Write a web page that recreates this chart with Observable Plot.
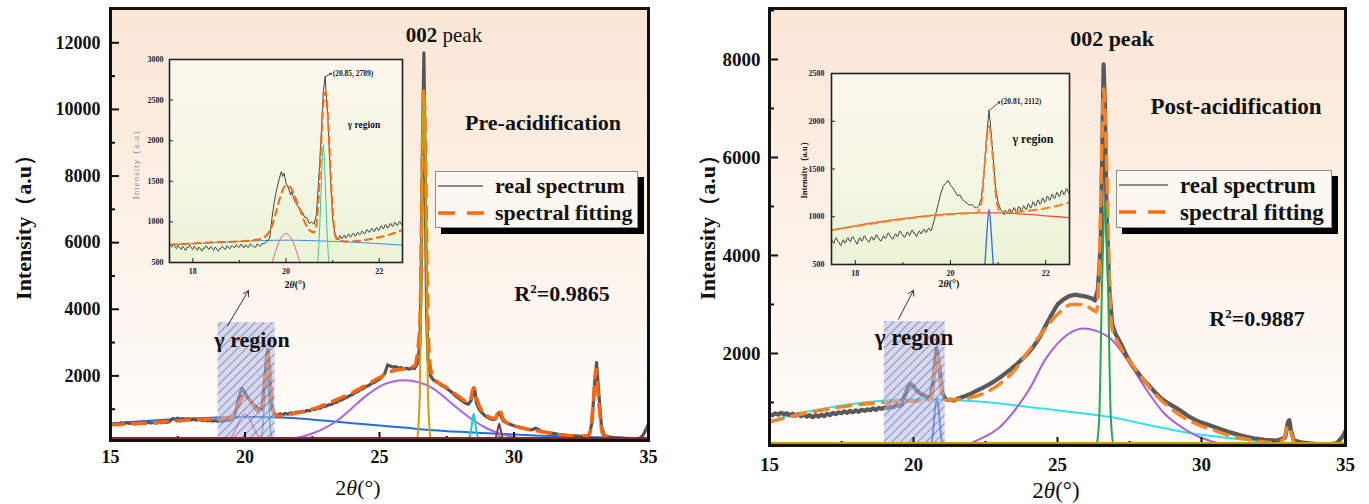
<!DOCTYPE html>
<html><head><meta charset="utf-8">
<script src="https://cdn.jsdelivr.net/npm/d3@7"></script>
<script src="https://cdn.jsdelivr.net/npm/@observablehq/plot@0.6"></script>
<style>
body{margin:0;background:#fff;}
#wrap{position:relative;width:1369px;height:504px;overflow:hidden;font-family:"Liberation Serif","Times New Roman",serif;color:#111;}
.abs{position:absolute;}
.t{position:absolute;white-space:nowrap;line-height:1;font-family:"Liberation Serif","Times New Roman",serif;}
svg{overflow:visible;}
</style></head><body><div id="wrap"></div>
<script>
// ---------------- DATA: Pre-acidification (main) ----------------
const preSpectrum = [[15.0,560],[15.1,540],[15.2,575],[15.3,550],[15.4,590],[15.5,560],[15.6,600],[15.7,570],[15.8,585],[15.9,555],[16.0,590],[16.1,570],[16.2,600],[16.3,575],[16.4,610],[16.5,585],[16.6,600],[16.7,580],[16.8,615],[16.9,590],[17.0,620],[17.1,600],[17.2,630],[17.3,720],[17.4,700],[17.5,730],[17.6,700],[17.7,720],[17.8,690],[17.9,715],[18.0,680],[18.1,700],[18.2,670],[18.3,690],[18.4,660],[18.5,680],[18.6,650],[18.7,670],[18.8,640],[18.9,660],[19.0,630],[19.1,650],[19.2,640],[19.3,670],[19.4,660],[19.5,700],[19.6,780],[19.7,1100],[19.8,1450],[19.9,1620],[20.0,1500],[20.1,1350],[20.2,1250],[20.3,1150],[20.4,1080],[20.5,1020],[20.6,1000],[20.65,1150],[20.7,1600],[20.8,2550],[20.85,2800],[20.9,2300],[20.95,1500],[21.0,1000],[21.1,850],[21.2,820],[21.3,860],[21.4,830],[21.5,870],[21.6,850],[21.7,890],[21.8,870],[21.9,910],[22.0,900],[22.1,930],[22.2,920],[22.3,960],[22.4,950],[22.5,1000],[22.6,990],[22.7,1040],[22.8,1030],[22.9,1080],[23.0,1090],[23.1,1130],[23.2,1140],[23.3,1190],[23.4,1200],[23.5,1260],[23.6,1280],[23.7,1330],[23.8,1360],[23.9,1410],[24.0,1440],[24.1,1500],[24.2,1530],[24.3,1590],[24.4,1620],[24.5,1680],[24.6,1710],[24.7,1770],[24.8,1800],[24.9,1860],[25.0,1900],[25.1,1980],[25.2,2080],[25.3,2330],[25.4,2300],[25.5,2260],[25.6,2280],[25.7,2230],[25.8,2250],[25.9,2210],[26.0,2230],[26.1,2200],[26.2,2240],[26.3,2220],[26.4,2350],[26.5,2900],[26.55,5000],[26.6,9000],[26.65,11700],[26.7,8000],[26.75,4000],[26.8,2500],[26.9,2000],[27.0,1880],[27.1,1830],[27.2,1780],[27.3,1720],[27.4,1680],[27.5,1620],[27.6,1560],[27.7,1500],[27.8,1420],[27.9,1350],[28.0,1290],[28.1,1230],[28.2,1180],[28.3,1150],[28.4,1250],[28.5,1600],[28.55,1550],[28.6,1200],[28.7,1000],[28.8,900],[28.9,820],[29.0,760],[29.1,720],[29.2,690],[29.3,700],[29.4,850],[29.45,900],[29.5,820],[29.6,650],[29.7,600],[29.8,560],[29.9,530],[30.0,500],[30.1,480],[30.2,460],[30.3,440],[30.4,420],[30.5,400],[30.6,380],[30.7,390],[30.8,430],[30.9,400],[31.0,340],[31.1,320],[31.2,300],[31.3,290],[31.4,280],[31.5,265],[31.6,250],[31.7,240],[31.8,230],[31.9,220],[32.0,210],[32.2,200],[32.4,190],[32.6,190],[32.8,220],[32.9,600],[33.0,1800],[33.07,2400],[33.15,1500],[33.25,500],[33.35,220],[33.5,170],[33.7,150],[34.0,130],[34.2,120],[34.4,110],[34.6,110],[34.7,140],[34.8,220],[34.9,380],[35.0,560]];
const preFit = [[15,530],[16,570],[17,620],[18,680],[19,720],[19.5,760],[19.7,1000],[19.9,1350],[20.0,1400],[20.2,1250],[20.4,1000],[20.6,880],[20.7,1200],[20.8,2300],[20.85,2650],[20.9,2400],[21.0,1300],[21.1,850],[21.3,800],[21.5,820],[22,900],[22.5,1000],[23,1150],[23.5,1320],[24,1500],[24.5,1720],[25,1950],[25.5,2150],[26,2230],[26.3,2300],[26.5,3500],[26.6,9000],[26.65,10600],[26.7,9000],[26.8,3500],[26.9,2200],[27,1950],[27.5,1650],[28,1350],[28.3,1200],[28.4,1350],[28.5,1650],[28.6,1350],[28.8,950],[29,800],[29.3,720],[29.45,1000],[29.6,700],[29.8,560],[30,500],[30.5,400],[31,330],[31.5,260],[32,210],[32.5,180],[32.8,230],[32.95,1200],[33.05,2200],[33.15,1200],[33.3,250],[33.6,130],[34,110],[34.5,100],[35,100]];
const preBaseline = [[15,570],[16,630],[17,680],[18,720],[19,750],[20,765],[20.5,765],[21,755],[22,720],[23,650],[24,580],[25,510],[26,440],[27,370],[28,320],[29,280],[30,240],[31,205],[32,180],[33,160],[34,145],[35,130]];
const preRed = [[19.2,15],[19.3,38],[19.4,87],[19.5,174],[19.6,309],[19.7,481],[19.8,660],[19.9,798],[20.0,850],[20.1,798],[20.2,660],[20.3,481],[20.4,309],[20.5,174],[20.6,87],[20.7,38],[20.8,15]];
const preTeal = [[20.55,19],[20.6,100],[20.65,366],[20.7,950],[20.75,1750],[20.8,2150],[20.85,1750],[20.9,950],[20.95,366],[21.0,100],[21.05,19]];
const prePurple = [[21.2,60],[22,150],[22.5,270],[23,450],[23.5,700],[24,1050],[24.5,1400],[25,1680],[25.5,1830],[25.9,1870],[26.5,1800],[27,1620],[27.5,1300],[28,960],[28.5,660],[29,420],[29.5,260],[30,160],[30.5,100],[31,70]];
const preGold = [[26.4,60],[26.5,1500],[26.55,5000],[26.6,9000],[26.65,10600],[26.7,9000],[26.75,5000],[26.8,1500],[26.9,60]];
const preCyan = [[28.3,60],[28.4,350],[28.5,870],[28.6,350],[28.7,60],[29.35,60],[29.45,200],[29.55,60]];
const preBrown = [[29.3,60],[29.4,400],[29.45,560],[29.5,400],[29.6,60]];
const preRegion = [{x1:19.0, x2:21.12, y1:60, y2:3600}];
const preArrow = [{x1:19.35, y1:3500, x2:20.13, y2:4560}];

// ---------------- DATA: Post-acidification (main) ----------------
const postSpectrum = [[15.0,760],[15.1,740],[15.2,780],[15.3,750],[15.4,790],[15.5,760],[15.6,780],[15.7,740],[15.8,770],[15.9,730],[16.0,760],[16.1,720],[16.2,750],[16.3,710],[16.4,740],[16.5,700],[16.6,740],[16.7,710],[16.8,750],[16.9,720],[17.0,770],[17.1,740],[17.2,790],[17.3,760],[17.4,800],[17.5,780],[17.6,820],[17.7,790],[17.8,830],[17.9,800],[18.0,840],[18.1,810],[18.2,850],[18.3,830],[18.4,860],[18.5,840],[18.6,880],[18.7,850],[18.8,890],[18.9,870],[19.0,900],[19.1,880],[19.2,920],[19.3,900],[19.4,940],[19.5,930],[19.6,960],[19.7,1150],[19.8,1300],[19.9,1380],[20.0,1330],[20.1,1250],[20.2,1200],[20.3,1160],[20.4,1130],[20.5,1110],[20.6,1120],[20.7,1500],[20.8,2100],[20.9,1700],[21.0,1200],[21.1,1080],[21.2,1050],[21.3,1060],[21.4,1040],[21.5,1070],[21.6,1090],[21.7,1110],[21.8,1130],[21.9,1160],[22.0,1180],[22.2,1240],[22.4,1300],[22.6,1360],[22.8,1430],[23.0,1510],[23.2,1600],[23.4,1690],[23.6,1790],[23.8,1900],[24.0,2020],[24.2,2170],[24.4,2350],[24.6,2580],[24.8,2800],[25.0,3000],[25.2,3100],[25.4,3170],[25.6,3200],[25.8,3180],[26.0,3160],[26.2,3120],[26.3,3080],[26.4,3300],[26.5,4200],[26.55,6000],[26.6,7900],[26.65,7000],[26.7,5000],[26.8,3300],[26.9,2600],[27.0,2420],[27.2,2200],[27.4,1950],[27.6,1750],[27.8,1600],[28.0,1450],[28.2,1330],[28.4,1200],[28.6,1080],[28.8,1000],[29.0,930],[29.2,860],[29.4,780],[29.6,700],[29.8,640],[30.0,590],[30.3,530],[30.6,470],[31.0,390],[31.4,320],[31.8,270],[32.2,240],[32.6,220],[32.9,280],[33.0,600],[33.05,640],[33.1,450],[33.2,230],[33.5,180],[34.0,150],[34.4,140],[34.7,170],[34.9,300],[35.0,420]];
const postFit = [[15,600],[15.5,680],[16,750],[16.5,810],[17,860],[17.5,910],[18,950],[18.5,980],[19,1000],[19.5,1020],[20,1030],[20.5,1040],[20.65,1150],[20.75,1700],[20.81,1950],[20.9,1650],[21.0,1150],[21.1,1050],[21.5,1060],[22,1100],[22.5,1200],[23,1380],[23.5,1650],[24,2050],[24.5,2450],[25,2800],[25.5,3000],[25.9,3000],[26.2,2900],[26.35,2850],[26.45,3800],[26.55,6500],[26.6,7400],[26.7,6000],[26.8,3500],[26.9,2500],[27.0,2350],[27.5,1850],[28,1450],[28.5,1100],[29,850],[29.5,650],[30,520],[30.5,420],[31,320],[31.5,260],[32,210],[32.5,180],[32.85,250],[33.0,520],[33.1,400],[33.25,150],[33.5,110],[34,90],[35,80]];
const postCyan = [[15,620],[16,780],[17,890],[18,980],[19,1040],[20,1065],[21,1060],[22,1030],[23,980],[24,910],[25,840],[26,770],[27,690],[28,560],[29,440],[30,340],[31,270],[32,210],[33,170],[34,130],[35,100]];
const postBlue = [[20.6,90],[20.65,250],[20.7,550],[20.75,880],[20.81,1080],[20.87,880],[20.92,550],[20.97,250],[21.02,90]];
const postPurple = [[21.2,60],[21.7,110],[22.3,250],[23,500],[23.5,830],[24,1250],[24.6,1900],[25,2200],[25.5,2440],[25.9,2510],[26.4,2450],[26.9,2270],[27.5,1800],[28.1,1250],[28.7,780],[29.3,500],[29.9,300],[30.4,200],[31,110],[31.5,60]];
const postGreen = [[26.35,80],[26.45,700],[26.55,3500],[26.65,5100],[26.75,3500],[26.85,700],[26.95,80]];
const postRegion = [{x1:18.99, x2:21.1, y1:122, y2:2650}];
const postArrow = [{x1:19.48, y1:2700, x2:20.0, y2:3290}];

// ---------------- DATA: insets ----------------
const preInsetSpectrum = [[17.50,720],[17.53,700],[17.55,690],[17.58,730],[17.60,710],[17.63,680],[17.65,670],[17.68,710],[17.70,700],[17.73,675],[17.75,660],[17.78,700],[17.80,690],[17.83,655],[17.85,650],[17.88,690],[17.90,680],[17.93,715],[17.95,700],[17.98,670],[18.00,660],[18.03,700],[18.05,690],[18.08,660],[18.10,650],[18.13,690],[18.15,680],[18.18,650],[18.20,640],[18.23,680],[18.25,670],[18.28,705],[18.30,700],[18.33,670],[18.35,660],[18.38,695],[18.40,690],[18.43,660],[18.45,650],[18.48,690],[18.50,680],[18.53,650],[18.55,640],[18.58,675],[18.60,670],[18.63,700],[18.65,690],[18.68,665],[18.70,660],[18.73,705],[18.75,700],[18.78,675],[18.80,670],[18.83,705],[18.85,700],[18.88,690],[18.90,680],[18.93,720],[18.95,710],[18.98,685],[19.00,690],[19.03,725],[19.05,720],[19.08,690],[19.10,680],[19.13,715],[19.15,710],[19.18,685],[19.20,690],[19.23,730],[19.25,720],[19.28,700],[19.30,700],[19.33,685],[19.35,690],[19.38,730],[19.40,720],[19.43,705],[19.45,700],[19.48,735],[19.50,730],[19.55,740],[19.60,760],[19.65,800],[19.70,1050],[19.75,1250],[19.80,1400],[19.85,1520],[19.90,1620],[19.93,1560],[19.96,1600],[20.00,1480],[20.05,1420],[20.10,1330],[20.13,1380],[20.16,1300],[20.20,1240],[20.25,1200],[20.30,1150],[20.35,1120],[20.40,1060],[20.45,1050],[20.50,980],[20.55,1000],[20.60,970],[20.65,1080],[20.70,1500],[20.75,2000],[20.80,2600],[20.84,2789],[20.90,2250],[20.95,1600],[21.00,1050],[21.05,850],[21.10,800],[21.13,780],[21.15,830],[21.18,815],[21.20,790],[21.23,820],[21.25,840],[21.28,800],[21.30,810],[21.33,845],[21.35,850],[21.38,815],[21.40,820],[21.43,855],[21.45,860],[21.48,825],[21.50,830],[21.53,865],[21.55,870],[21.58,840],[21.60,850],[21.63,885],[21.65,880],[21.68,850],[21.70,860],[21.73,905],[21.75,900],[21.78,870],[21.80,880],[21.83,915],[21.85,920],[21.88,885],[21.90,880],[21.93,925],[21.95,930],[21.98,895],[22.00,900],[22.03,945],[22.05,950],[22.08,915],[22.10,920],[22.13,965],[22.15,960],[22.18,925],[22.20,930],[22.23,975],[22.25,980],[22.28,945],[22.30,950],[22.33,995],[22.35,990],[22.38,955],[22.40,960],[22.43,1005],[22.45,1000],[22.48,965],[22.50,970]];
const preInsetFit = [[17.5,720],[18,735],[18.5,750],[19,760],[19.3,775],[19.5,800],[19.6,850],[19.7,950],[19.8,1150],[19.9,1350],[20.0,1450],[20.1,1420],[20.2,1300],[20.3,1150],[20.4,1000],[20.5,900],[20.6,870],[20.65,950],[20.7,1300],[20.75,1900],[20.8,2450],[20.85,2600],[20.9,2300],[20.95,1700],[21.0,1150],[21.05,850],[21.1,780],[21.3,760],[21.6,770],[21.9,800],[22.2,840],[22.5,900]];
const preInsetBlue = [[17.5,718],[18,730],[18.5,745],[19,760],[19.5,770],[20,775],[20.5,770],[21,760],[21.5,748],[22,732],[22.5,714]];
const preInsetRed = [[19.6,380],[19.7,500],[19.8,680],[19.9,810],[20.0,858],[20.1,810],[20.2,680],[20.3,500],[20.4,380]];
const preInsetTeal = [[20.62,300],[20.68,500],[20.72,900],[20.76,1500],[20.8,1950],[20.84,1500],[20.88,900],[20.92,500],[20.98,300]];
const preInsetNote = [{x:20.84, y:2789, x2:20.98, y2:2830, label:"(20.85, 2789)"}];

const postInsetSpectrum = [[17.50,760],[17.53,735],[17.55,720],[17.58,770],[17.60,780],[17.63,745],[17.65,740],[17.68,705],[17.70,700],[17.73,745],[17.75,760],[17.78,725],[17.80,730],[17.83,775],[17.85,780],[17.88,745],[17.90,740],[17.93,785],[17.95,790],[17.98,760],[18.00,750],[18.03,715],[18.05,720],[18.08,770],[18.10,780],[18.13,745],[18.15,750],[18.18,795],[18.20,800],[18.23,765],[18.25,760],[18.28,735],[18.30,740],[18.33,785],[18.35,790],[18.38,755],[18.40,760],[18.43,805],[18.45,810],[18.48,775],[18.50,770],[18.53,745],[18.55,750],[18.58,795],[18.60,800],[18.63,770],[18.65,780],[18.68,825],[18.70,830],[18.73,795],[18.75,790],[18.78,765],[18.80,770],[18.83,815],[18.85,820],[18.88,790],[18.90,800],[18.93,845],[18.95,850],[18.98,815],[19.00,810],[19.03,785],[19.05,790],[19.08,835],[19.10,840],[19.13,805],[19.15,810],[19.18,855],[19.20,860],[19.23,825],[19.25,830],[19.28,795],[19.30,800],[19.33,845],[19.35,850],[19.38,820],[19.40,830],[19.43,865],[19.45,870],[19.48,835],[19.50,840],[19.53,875],[19.55,880],[19.58,850],[19.60,860],[19.65,950],[19.70,1050],[19.75,1150],[19.80,1250],[19.85,1320],[19.90,1350],[19.95,1380],[20.00,1330],[20.05,1300],[20.10,1260],[20.15,1220],[20.20,1230],[20.25,1180],[20.30,1160],[20.35,1140],[20.40,1120],[20.45,1130],[20.50,1100],[20.55,1090],[20.60,1120],[20.65,1200],[20.70,1450],[20.75,1800],[20.81,2112],[20.85,1900],[20.90,1600],[20.95,1300],[21.00,1150],[21.05,1080],[21.10,1050],[21.13,1020],[21.15,1070],[21.18,1040],[21.20,1030],[21.23,1075],[21.25,1080],[21.28,1040],[21.30,1050],[21.33,1095],[21.35,1090],[21.38,1050],[21.40,1060],[21.43,1105],[21.45,1100],[21.48,1060],[21.50,1070],[21.53,1115],[21.55,1110],[21.58,1075],[21.60,1080],[21.63,1135],[21.65,1130],[21.68,1090],[21.70,1100],[21.73,1155],[21.75,1150],[21.78,1110],[21.80,1120],[21.83,1175],[21.85,1170],[21.88,1130],[21.90,1140],[21.93,1195],[21.95,1190],[21.98,1150],[22.00,1160],[22.03,1215],[22.05,1210],[22.08,1170],[22.10,1180],[22.13,1235],[22.15,1230],[22.18,1190],[22.20,1200],[22.23,1255],[22.25,1250],[22.28,1210],[22.30,1220],[22.33,1275],[22.35,1270],[22.38,1230],[22.40,1240],[22.43,1295],[22.45,1290],[22.48,1250],[22.50,1260]];
const postInsetFit = [[17.5,860],[18,900],[18.5,940],[19,975],[19.5,1005],[20,1025],[20.3,1035],[20.55,1040],[20.65,1150],[20.72,1550],[20.81,1950],[20.9,1550],[20.97,1150],[21.05,1050],[21.3,1050],[21.6,1060],[21.9,1080],[22.2,1110],[22.5,1150]];
const postInsetRed = [[17.5,860],[18,905],[18.5,945],[19,980],[19.5,1010],[20,1030],[20.5,1040],[21,1040],[21.5,1030],[22,1010],[22.5,990]];
const postInsetBlue = [[20.66,400],[20.72,500],[20.76,800],[20.81,1080],[20.86,800],[20.9,500],[20.96,400]];
const postInsetNote = [{x:20.81, y:2112, x2:21.04, y2:2205, label:"(20.81, 2112)"}];

// ticks
const mainXTicks = [15, 20, 25, 30, 35];
const mainXMajorIn = [20, 25, 30];
const mainXMinorIn = [17.5, 22.5, 27.5, 32.5];
const preYTicks = [2000, 4000, 6000, 8000, 10000, 12000];
const preYMinor = [1000, 3000, 5000, 7000, 9000, 11000];
const postYTicks = [2000, 4000, 6000, 8000];
const postYMinor = [1000, 3000, 5000, 7000, 9000];
const insetXTicks = [18, 20, 22];
const insetXMinor = [19, 21];
const preInsetYTicks = [500, 1000, 1500, 2000, 2500, 3000];
const postInsetYTicks = [500, 1000, 1500, 2000, 2500];

// ---------------- RENDER ----------------
const wrap = document.getElementById("wrap");
const add = html => wrap.insertAdjacentHTML("beforeend", html);
function place(node, x, y){ node.style.position = "absolute"; node.style.left = x + "px"; node.style.top = y + "px"; wrap.appendChild(node); }
function txt(html, x, y, style, anchor){
  const tr = anchor === "start" ? "translate(0,-50%)" : "translate(-50%,-50%)";
  add(`<div class="t" style="left:${x}px;top:${y}px;transform:${tr};${style}">${html}</div>`);
}
function bg(x, y, w, h, grad){ add(`<div class="abs" style="left:${x}px;top:${y}px;width:${w}px;height:${h}px;background:${grad}"></div>`); }
const XY = {x: d => d[0], y: d => d[1]};
const fmt = d3.format("d");
const SERIF = "'Liberation Serif','Times New Roman',serif";

function addHatch(svg, id){
  const p = d3.select(svg).insert("defs", ":first-child").append("pattern")
    .attr("id", id).attr("patternUnits", "userSpaceOnUse").attr("width", 6).attr("height", 6)
    .attr("patternTransform", "rotate(45)");
  p.append("line").attr("x1", 0).attr("y1", 0).attr("x2", 0).attr("y2", 6).attr("stroke", "#3a3a4a").attr("stroke-width", 0.9);
}

function mainChart(o){
  const H = o.height - o.mt - o.mb, W = o.width - o.ml - o.mr;
  const svg = Plot.plot({
    width: o.width, height: o.height, marginTop: o.mt, marginBottom: o.mb, marginLeft: o.ml, marginRight: o.mr,
    x: {domain: [15, 35]}, y: {domain: o.yDom},
    style: {fontFamily: SERIF, fontWeight: "bold", fontSize: o.fs + "px", color: "#111", background: "none"},
    marks: [
      Plot.axisY({ticks: o.yTicks, tickSize: 0, tickPadding: o.padY, tickFormat: fmt, label: null}),
      Plot.axisX({ticks: mainXTicks, tickSize: 0, tickPadding: o.padX, tickFormat: fmt, label: null}),
      ...o.series.map(s => Plot.line(s.data, {...XY, stroke: s.color, strokeWidth: s.w, strokeDasharray: s.dash, curve: s.curve || "linear", clip: true})),
      Plot.rect(o.region, {x1: "x1", x2: "x2", y1: "y1", y2: "y2", fill: "#b4bbee", fillOpacity: 0.55}),
      Plot.rect(o.region, {x1: "x1", x2: "x2", y1: "y1", y2: "y2", fill: `url(#${o.id}hatch)`}),
      Plot.arrow(o.arrow, {x1: "x1", y1: "y1", x2: "x2", y2: "y2", stroke: "#333", strokeWidth: 1, headLength: 9}),
      Plot.tickX(mainXMajorIn, {x: d => d, insetTop: H - 8, stroke: "#111", strokeWidth: 2}),
      Plot.tickX(mainXMinorIn, {x: d => d, insetTop: H - 4, stroke: "#111", strokeWidth: 2}),
      Plot.tickY(o.yTicks, {y: d => d, insetRight: W - 9, stroke: "#111", strokeWidth: 2}),
      Plot.tickY(o.yMinor, {y: d => d, insetRight: W - 5, stroke: "#111", strokeWidth: 2}),
      Plot.ruleY([o.yDom[0]], {stroke: o.bottomColor, strokeWidth: 3, dy: -2}),
      Plot.frame({stroke: "#111", strokeWidth: 3})
    ]
  });
  addHatch(svg, o.id + "hatch");
  return svg;
}

function insetChart(o){
  const H = o.height - o.mt - o.mb, W = o.width - o.ml - o.mr;
  return Plot.plot({
    width: o.width, height: o.height, marginTop: o.mt, marginBottom: o.mb, marginLeft: o.ml, marginRight: o.mr,
    x: {domain: [17.5, 22.5]}, y: {domain: o.yDom},
    style: {fontFamily: SERIF, fontWeight: "bold", fontSize: "8px", color: "#222", background: "none"},
    marks: [
      Plot.axisY({ticks: o.yTicks, tickSize: 0, tickPadding: o.padY, tickFormat: fmt, label: null}),
      Plot.axisX({ticks: insetXTicks, tickSize: 0, tickPadding: 6, tickFormat: fmt, label: null}),
      ...o.series.map(s => Plot.line(s.data, {...XY, stroke: s.color, strokeWidth: s.w, strokeDasharray: s.dash, curve: s.curve || "linear", clip: true})),
      Plot.arrow(o.note, {x1: "x", y1: "y", x2: "x2", y2: "y2", stroke: "#222", strokeWidth: 0.8, headLength: 4}),
      Plot.text(o.note, {x: "x2", y: "y2", text: "label", textAnchor: "start", dx: 1, fontSize: 7.5, fill: "#222"}),
      Plot.tickX(insetXTicks, {x: d => d, insetTop: H - 4, stroke: "#222", strokeWidth: 1}),
      Plot.tickX(insetXMinor, {x: d => d, insetTop: H - 2, stroke: "#222", strokeWidth: 1}),
      Plot.tickY(o.yTicks, {y: d => d, insetRight: W - 4, stroke: "#222", strokeWidth: 1}),
      Plot.frame({stroke: "#222", strokeWidth: 1.6})
    ]
  });
}

function legend(x, y, w, h, fs, tx, lineEnd){
  add(`<div class="abs" style="left:${x+6}px;top:${y+6}px;width:${w}px;height:${h}px;background:#000"></div>`);
  add(`<div class="abs" style="left:${x}px;top:${y}px;width:${w-2}px;height:${h-2}px;background:#fdf7f1;border:1px solid #8c8c8c"></div>`);
  add(`<svg class="abs" style="left:${x}px;top:${y}px" width="${w}" height="${h}">
    <line x1="3" x2="${lineEnd}" y1="15" y2="15" stroke="#666" stroke-width="1.6"/>
    <line x1="3" x2="${lineEnd+4}" y1="42" y2="42" stroke="#ff6a12" stroke-width="3.5" stroke-dasharray="17,12"/>
  </svg>`);
  txt("real spectrum", tx, y + 15, `font-weight:bold;font-size:${fs}px`, "start");
  txt("spectral fitting", tx, y + 42, `font-weight:bold;font-size:${fs}px`, "start");
}

// ---- Left panel ----
bg(110, 8, 538, 432, "linear-gradient(#fae6d5 0%, #fcf0e5 45%, #fffdfb 100%)");
place(mainChart({
  id: "pre", width: 660, height: 504, mt: 8, mb: 64, ml: 110, mr: 12, fs: 18, padX: 10, padY: 10,
  yDom: [60, 13030], yTicks: preYTicks, yMinor: preYMinor, bottomColor: "#7a2e2e",
  region: preRegion, arrow: preArrow,
  series: [
    {data: preBaseline, color: "#1f6fe0", w: 2, curve: "monotone-x"},
    {data: preRed, color: "#e0607c", w: 1.5, curve: "monotone-x"},
    {data: preTeal, color: "#2fb59a", w: 1.5, curve: "monotone-x"},
    {data: prePurple, color: "#a865e6", w: 2, curve: "monotone-x"},
    {data: preCyan, color: "#22c9d3", w: 2, curve: "monotone-x"},
    {data: preBrown, color: "#7b3d52", w: 2, curve: "monotone-x"},
    {data: preSpectrum, color: "#555", w: 3.2},
    {data: preFit, color: "#ff6410", w: 3.5, dash: "13,9", curve: "monotone-x"},
    {data: preGold, color: "#c9a114", w: 2, curve: "monotone-x"}
  ]
}), 0, 0);

// ---- Right panel ----
bg(769, 8, 576, 437, "linear-gradient(#fae6d5 0%, #fcf0e5 45%, #fffdfb 100%)");
place(mainChart({
  id: "post", width: 680, height: 504, mt: 8, mb: 59, ml: 89, mr: 15, fs: 19, padX: 12, padY: 9,
  yDom: [122, 9040], yTicks: postYTicks, yMinor: postYMinor, bottomColor: "#c99a06",
  region: postRegion, arrow: postArrow,
  series: [
    {data: postCyan, color: "#2fe3ee", w: 2, curve: "monotone-x"},
    {data: postBlue, color: "#2a6fd8", w: 2, curve: "monotone-x"},
    {data: postPurple, color: "#a562dc", w: 2, curve: "monotone-x"},
    {data: postSpectrum, color: "#5a5a5a", w: 4.2},
    {data: postFit, color: "#f5842a", w: 3.5, dash: "14,9", curve: "monotone-x"},
    {data: postGreen, color: "#2ca35a", w: 2, curve: "monotone-x"}
  ]
}), 680, 0);

// ---- Left inset ----
bg(169, 59, 233, 203, "linear-gradient(#fdf7ee 0%, #f3f6e2 60%, #ebf4d6 100%)");
place(insetChart({
  width: 285, height: 245, mt: 9, mb: 33, ml: 44, mr: 8, padY: 6,
  yDom: [500, 3000], yTicks: preInsetYTicks, note: preInsetNote,
  series: [
    {data: preInsetBlue, color: "#3a8ee0", w: 1, curve: "monotone-x"},
    {data: preInsetRed, color: "#e06a80", w: 1, curve: "monotone-x"},
    {data: preInsetTeal, color: "#3cc49a", w: 1, curve: "monotone-x"},
    {data: preInsetSpectrum, color: "#444", w: 1},
    {data: preInsetFit, color: "#ff6a10", w: 2, dash: "7,5", curve: "monotone-x"}
  ]
}), 125, 50);

// ---- Right inset ----
bg(831, 73, 238, 191, "linear-gradient(#fdf7ee 0%, #f3f6e2 60%, #ebf4d6 100%)");
place(insetChart({
  width: 290, height: 240, mt: 13, mb: 36, ml: 41, mr: 11, padY: 7,
  yDom: [500, 2500], yTicks: postInsetYTicks, note: postInsetNote,
  series: [
    {data: postInsetBlue, color: "#2a6fd8", w: 1.3, curve: "monotone-x"},
    {data: postInsetSpectrum, color: "#444", w: 1},
    {data: postInsetRed, color: "#e8504a", w: 1.3, curve: "monotone-x"},
    {data: postInsetFit, color: "#f5842a", w: 2, dash: "8,5", curve: "monotone-x"}
  ]
}), 790, 60);

// ---- Legends ----
legend(435, 171, 203, 57, 22, 495, 48);
legend(1116, 170, 216, 58, 23, 1180, 52);

// ---- Text annotations ----
const rot = "transform:translate(-50%,-50%) rotate(-90deg);";
add(`<div class="t" style="left:24px;top:222px;${rot}font-weight:bold;font-size:22px">Intensity（a.u）</div>`);
add(`<div class="t" style="left:708px;top:222px;${rot}font-weight:bold;font-size:22px">Intensity（a.u）</div>`);
txt("2<i>θ</i>(°)", 358, 488, "font-size:22px");
txt("2<i>θ</i>(°)", 1056, 490, "font-size:23px");
txt("<b>002</b> peak", 444, 35, "font-size:21px");
txt("<b>002 peak</b>", 1112, 39, "font-size:22px");
txt("<b>Pre-acidification</b>", 543, 123, "font-size:22px");
txt("<b>Post-acidification</b>", 1236, 106, "font-size:23px");
txt("<b>R<sup style='font-size:13px;vertical-align:8px'>2</sup>=0.9865</b>", 562, 293, "font-size:22px");
txt("<b>R<sup style='font-size:13px;vertical-align:8px'>2</sup>=0.9887</b>", 1257, 318, "font-size:22px");
txt("<b>γ region</b>", 252, 340, "font-size:22px");
txt("<b>γ region</b>", 914, 337, "font-size:23px");
txt("<b>γ region</b>", 364, 126, "font-size:9.5px");
txt("<b>γ region</b>", 1033, 139, "font-size:12px");
txt("2<i>θ</i>(°)", 295, 285, "font-size:10px;font-weight:bold");
txt("2<i>θ</i>(°)", 949, 284, "font-size:10px;font-weight:bold");
add(`<div class="t" style="left:136px;top:162px;${rot}font-size:9px;color:#888;letter-spacing:1px">Intensity（a.u）</div>`);
add(`<div class="t" style="left:804px;top:168px;${rot}font-size:8.5px;font-weight:bold">Intensity（a.u）</div>`);
</script></body></html>
